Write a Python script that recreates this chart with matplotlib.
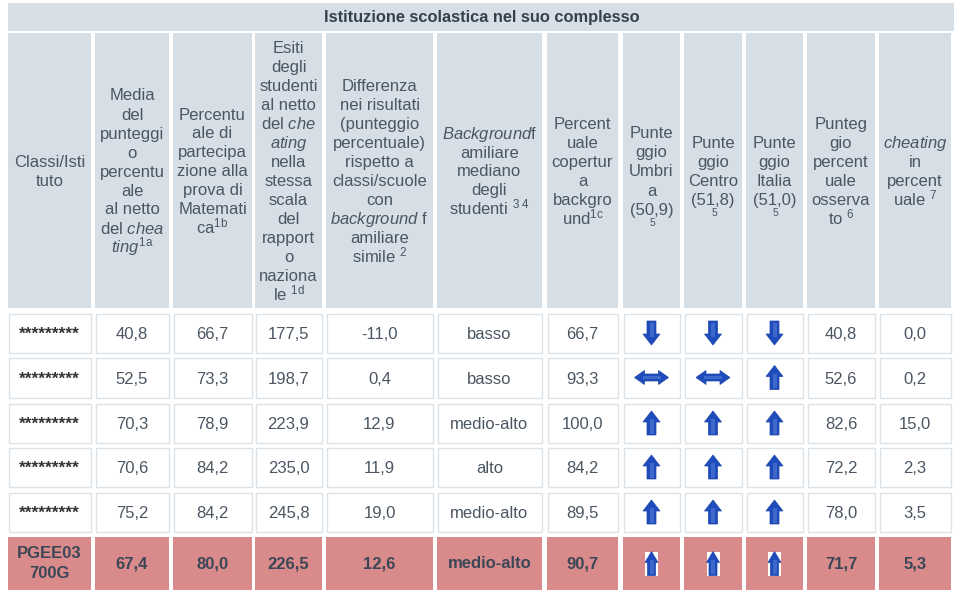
import matplotlib
matplotlib.use("Agg")
import matplotlib.pyplot as plt
from matplotlib.patches import Rectangle, Polygon

plt.rcParams['font.family'] = ['Liberation Sans', 'DejaVu Sans']
plt.rcParams['mathtext.fontset'] = 'custom'
plt.rcParams['mathtext.rm'] = 'Liberation Sans'
plt.rcParams['mathtext.it'] = 'Liberation Sans:italic'
plt.rcParams['mathtext.bf'] = 'Liberation Sans:bold'

# ---- data ----
titolo = "Istituzione scolastica nel suo complesso"
classi = ["*********", "*********", "*********", "*********", "*********", "PGEE03\n700G"]
media = ["40,8", "52,5", "70,3", "70,6", "75,2", "67,4"]
partecipazione = ["66,7", "73,3", "78,9", "84,2", "84,2", "80,0"]
esiti = ["177,5", "198,7", "223,9", "235,0", "245,8", "226,5"]
differenza = ["-11,0", "0,4", "12,9", "11,9", "19,0", "12,6"]
background = ["basso", "basso", "medio-alto", "alto", "medio-alto", "medio-alto"]
copertura = ["66,7", "93,3", "100,0", "84,2", "89,5", "90,7"]
umbria = ["down", "both", "up", "up", "up", "up"]
centro = ["down", "both", "up", "up", "up", "up"]
italia = ["down", "up", "up", "up", "up", "up"]
osservato = ["40,8", "52,6", "82,6", "72,2", "78,0", "71,7"]
cheating = ["0,0", "0,2", "15,0", "2,3", "3,5", "5,3"]

intestazioni = [
    ["Classi/Isti", "tuto"],
    ["Media", "del", "punteggi", "o", "percentu", "ale", "al netto", r"del $\mathit{chea}$",
     r"$\mathit{ting}^{\mathrm{1a}}$"],
    ["Percentu", "ale di", "partecipa", "zione alla", "prova di", "Matemati", r"ca$^{\mathrm{1b}}$"],
    ["Esiti", "degli", "studenti", "al netto", r"del $\mathit{che}$", r"$\mathit{ating}$", "nella",
     "stessa", "scala", "del", "rapport", "o", "naziona", r"le $^{\mathrm{1d}}$"],
    ["Differenza", "nei risultati", "(punteggio", "percentuale)", "rispetto a", "classi/scuole",
     "con", r"$\mathit{background}$ f", "amiliare", r"simile $^{\mathrm{2}}$"],
    [r"$\mathit{Background}$f", "amiliare", "mediano", "degli", r"studenti $^{\mathrm{3\ 4}}$"],
    ["Percent", "uale", "copertur", "a", "backgro", r"und$^{\mathrm{1c}}$"],
    ["Punte", "ggio", "Umbri", "a", "(50,9)"],
    ["Punte", "ggio", "Centro", "(51,8)"],
    ["Punte", "ggio", "Italia", "(51,0)"],
    ["Punteg", "gio", "percent", "uale", "osserva", r"to $^{\mathrm{6}}$"],
    [r"$\mathit{cheating}$", "in", "percent", r"uale $^{\mathrm{7}}$"],
]
nota_sotto = [None, None, None, None, None, None, None, "5", "5", "5", None, None]

colonne = [classi, media, partecipazione, esiti, differenza, background, copertura,
           umbria, centro, italia, osservato, cheating]
freccia = [False] * 7 + [True] * 3 + [False] * 2

# ---- layout (pixels) ----
xs = [(8, 91), (95, 169), (173, 252), (255, 322), (326, 433), (437, 542), (547, 618),
      (623, 680), (684, 742), (746, 803), (807, 875), (879, 951)]
righe = [(313, 353), (357, 398), (403, 443), (447, 487), (492, 532), (537, 590)]
head_top, head_bot = 33, 308

C_HEAD = '#d6dfe6'
C_BORDER = '#dbe3e9'
C_HL = '#d98b8b'
C_TXT = '#4b5662'
C_TXT_B = '#3b4756'
C_BLU = '#1f4cbc'
C_BLU2 = '#5a80d8'

fig = plt.figure(figsize=(9.61, 6), dpi=100)
ax = fig.add_axes([0, 0, 1, 1])
ax.set_xlim(0, 961)
ax.set_ylim(600, 0)
ax.axis('off')

# title bar
ax.add_patch(Rectangle((8, 3), 946, 28, facecolor=C_HEAD, edgecolor='none'))
ax.text(482, 17.5, titolo, ha='center', va='center', fontsize=11.8, fontweight='bold', color='#36414d')


def disegna_freccia(cx, cy, tipo, sfondo=False):
    if sfondo:
        ax.add_patch(Rectangle((cx - 6.5, cy - 12), 13, 24, facecolor='white', edgecolor='none', zorder=3))
    if tipo == 'both':
        L, hl, hw, sw = 17, 10, 7, 3.5
        pts = [(cx - L, cy), (cx - L + hl, cy - hw), (cx - L + hl, cy - sw), (cx + L - hl, cy - sw),
               (cx + L - hl, cy - hw), (cx + L, cy), (cx + L - hl, cy + hw), (cx + L - hl, cy + sw),
               (cx - L + hl, cy + sw), (cx - L + hl, cy + hw)]
        inner = [(cx - L + hl - 2, cy - 1.5), (cx + L - hl + 2, cy - 1.5),
                 (cx + L - hl + 2, cy + 1.5), (cx - L + hl - 2, cy + 1.5)]
    else:
        s = -1 if tipo == 'up' else 1
        H, hl, hw, sw = 12, 11, 8.5, 4.5
        if sfondo:
            hw, sw = 6.5, 4
        pts = [(cx, cy + s * H), (cx - hw, cy + s * (H - hl)), (cx - sw, cy + s * (H - hl)),
               (cx - sw, cy - s * H), (cx + sw, cy - s * H), (cx + sw, cy + s * (H - hl)),
               (cx + hw, cy + s * (H - hl))]
        inner = [(cx - 2, cy - s * (H - 1.5)), (cx + 2, cy - s * (H - 1.5)),
                 (cx + 2, cy + s * (H - hl + 3)), (cx - 2, cy + s * (H - hl + 3))]
    ax.add_patch(Polygon(pts, closed=True, facecolor=C_BLU, edgecolor='#1a43a8', lw=0.5, zorder=4))
    ax.add_patch(Polygon(inner, closed=True, facecolor=C_BLU2, edgecolor='none', alpha=0.55, zorder=5))


# header cells
for j, (x0, x1) in enumerate(xs):
    ax.add_patch(Rectangle((x0, head_top), x1 - x0, head_bot - head_top, facecolor=C_HEAD, edgecolor='none'))
    cx = (x0 + x1) / 2
    lines = intestazioni[j]
    n = len(lines)
    y0 = 176.5 - (n - 1) * 9.5
    for k, t in enumerate(lines):
        ax.text(cx, y0 + k * 19, t, ha='center', va='baseline', fontsize=12, color=C_TXT)
    if nota_sotto[j]:
        ax.text(cx + 1, y0 + (n - 1) * 19 + 11, nota_sotto[j], ha='center', va='baseline',
                fontsize=7.5, color=C_TXT)

# data cells
for i, (y0, y1) in enumerate(righe):
    ultima = i == len(righe) - 1
    cy = (y0 + y1) / 2
    for j, (x0, x1) in enumerate(xs):
        if ultima:
            ax.add_patch(Rectangle((x0, y0), x1 - x0, y1 - y0, facecolor=C_HL, edgecolor='none'))
        else:
            ax.add_patch(Rectangle((x0 + 0.5, y0 + 0.5), x1 - x0 - 1, y1 - y0 - 1, facecolor='white',
                                   edgecolor=C_BORDER, lw=1))
        cx = (x0 + x1) / 2
        val = colonne[j][i]
        if freccia[j]:
            disegna_freccia(cx, cy, val, sfondo=ultima)
        elif ultima:
            if '\n' in val:
                a, b = val.split('\n')
                ax.text(cx, cy - 5, a, ha='center', va='baseline', fontsize=12, fontweight='bold', color=C_TXT_B)
                ax.text(cx, cy + 14, b, ha='center', va='baseline', fontsize=12, fontweight='bold', color=C_TXT_B)
            else:
                ax.text(cx, cy + 5, val, ha='center', va='baseline', fontsize=12, fontweight='bold', color=C_TXT_B)
        elif j == 0:
            ax.text(cx, cy + 6, val, ha='center', va='baseline', fontsize=12.5, fontweight='bold', color='#333333')
        else:
            ax.text(cx, cy + 6, val, ha='center', va='baseline', fontsize=12, color=C_TXT)

fig.savefig("out.png", dpi=100)
